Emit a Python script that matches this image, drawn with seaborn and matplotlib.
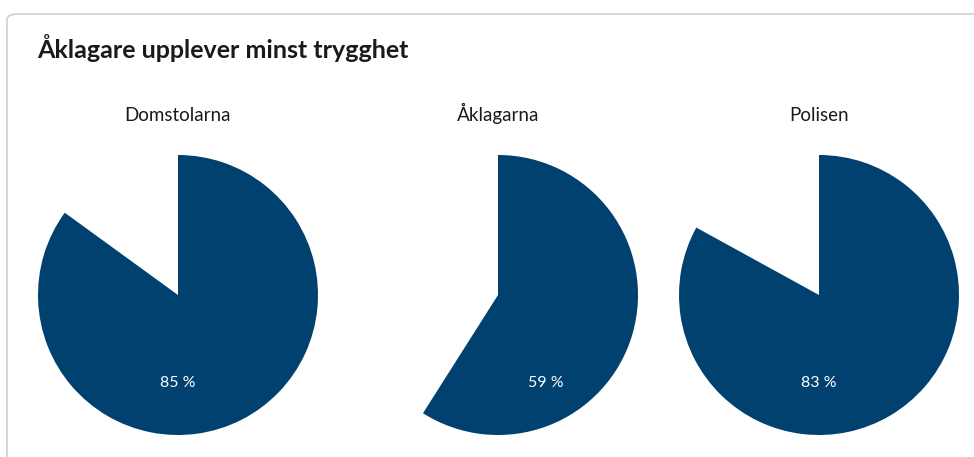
import matplotlib.pyplot as plt
import seaborn as sns
from matplotlib.patches import FancyBboxPatch

title = 'Åklagare upplever minst trygghet'
groups = ['Domstolarna', 'Åklagarna', 'Polisen']
values = [85, 59, 83]

sns.set_theme(style="white")
plt.rcParams['font.family'] = ['Lato', 'DejaVu Sans']

blue = '#00416f'

W, H = 974, 457
fig = plt.figure(figsize=(W / 100, H / 100), dpi=100)
fig.patch.set_facecolor('white')

# light frame around the chart
frame = FancyBboxPatch((7 / W, -0.2), 1.2, (H - 14) / H + 0.2,
                       boxstyle='round,pad=0,rounding_size=0.012',
                       transform=fig.transFigure, facecolor='none',
                       edgecolor='#cfcfcf', linewidth=1.2, zorder=-1)
fig.patches.append(frame)

fig.text(37 / W, 1 - 58 / H, title, fontsize=18, fontweight='bold',
         color='#1a1a1a', va='baseline', ha='left')

centers = [178, 498, 819]
label_dx = [0, 0.34, 0]
r = 140
for cx, name, v, dx in zip(centers, groups, values, label_dx):
    ax = fig.add_axes([(cx - r) / W, (H - 435) / H, 2 * r / W, 2 * r / H])
    ax.set_facecolor('none')
    ax.pie([v, 100 - v], colors=[blue, 'none'], startangle=90,
           counterclock=False, wedgeprops=dict(linewidth=0))
    ax.set_xlim(-1, 1)
    ax.set_ylim(-1, 1)
    ax.axis('off')
    ax.text(0.5, 1 + 34 / (2 * r), name, transform=ax.transAxes,
            ha='center', va='baseline', fontsize=13.5, color='#1a1a1a')
    ax.text(dx, -92 / r, f'{v} %', ha='center', va='baseline',
            fontsize=11.5, color='white')

fig.savefig('out.png', dpi=100)
